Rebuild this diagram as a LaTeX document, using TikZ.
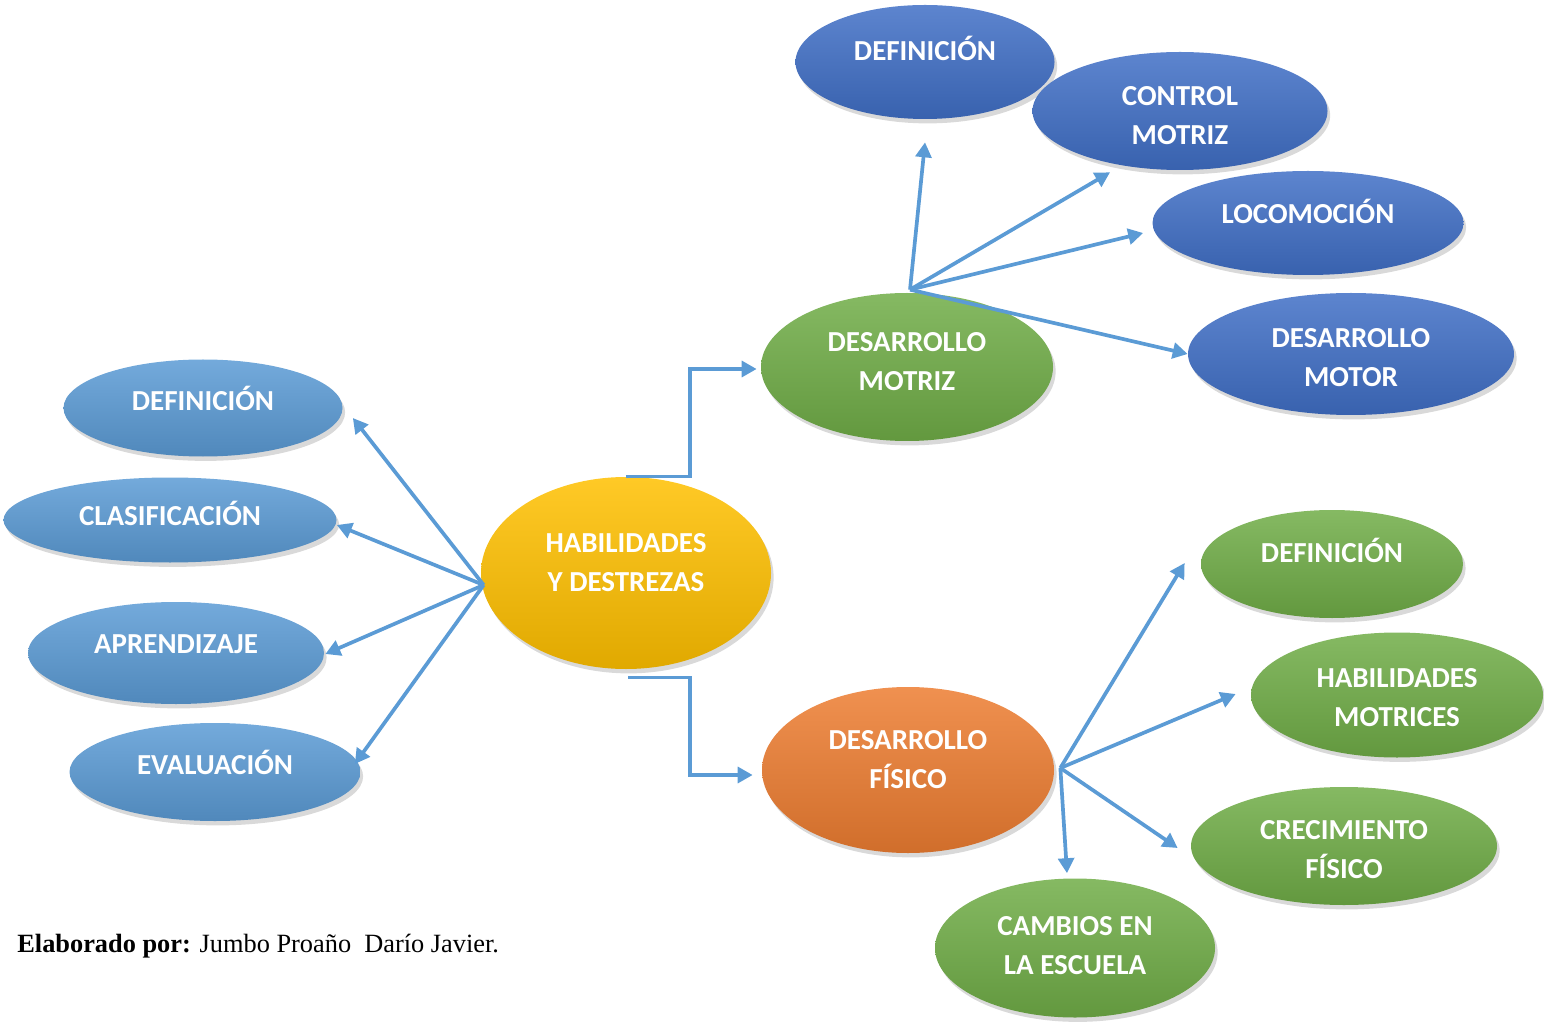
\documentclass[tikz,border=0pt]{standalone}
\usepackage{fontspec}
\setmainfont{Liberation Serif}
\newfontfamily\carlito{Carlito}
\usetikzlibrary{shapes.geometric,shadows,arrows.meta}

\definecolor{lineblue}{HTML}{5B9BD5}
\definecolor{amarillo}{HTML}{FFC000}
\definecolor{verde}{HTML}{70AD47}
\definecolor{naranja}{HTML}{ED7D31}
\definecolor{celeste}{HTML}{5B9BD5}
\definecolor{azul}{HTML}{406FC6}

% text of a bubble, lifted by #1 px over the centre
\newcommand{\lbl}[2]{\raisebox{\dimexpr 0.569pt*#1-4.9pt\relax}[0pt][0pt]{\begin{tabular}{@{}c@{}}#2\end{tabular}}}

\begin{document}
\begin{tikzpicture}[x=0.02cm,y=-0.02cm,
bubble/.style={ellipse,inner sep=0pt,text=white,
  top color=#1!85!white,middle color=#1,bottom color=#1!88!black,
  drop shadow={shadow xshift=1.5pt,shadow yshift=-2.5pt,opacity=.3},
  font=\carlito\bfseries\fontsize{16.5}{22}\selectfont},
wh/.style 2 args={minimum width=#1*0.02cm,minimum height=#2*0.02cm},
conn/.style={draw=lineblue,line width=2.1pt,-{Triangle[length=8.5pt,width=9pt]}}]
\useasboundingbox (0,0) rectangle (1544,1023);

% centre
\node[bubble=amarillo,wh={290}{192}] (hab) at (626,573) {\lbl{10}{HABILIDADES\\Y DESTREZAS}};
\node[bubble=verde,wh={292}{148}] (dm) at (907,367) {\lbl{5}{DESARROLLO\\MOTRIZ}};
\node[bubble=naranja,wh={292}{166}] (df) at (908,770) {\lbl{10}{DESARROLLO\\FÍSICO}};

% left
\node[bubble=celeste,wh={279}{97}] (defL) at (203,408) {\lbl{6}{DEFINICIÓN}};
\node[bubble=celeste,wh={333}{85}] (clas) at (170,520) {\lbl{3}{CLASIFICACIÓN}};
\node[bubble=celeste,wh={296}{102}] (apr) at (176,653) {\lbl{8}{APRENDIZAJE}};
\node[bubble=celeste,wh={291}{98}] (eval) at (215,772) {\lbl{6}{EVALUACIÓN}};

% top right
\node[bubble=azul,wh={259}{114}] (defT) at (925,62) {\lbl{10}{DEFINICIÓN}};
\node[bubble=azul,wh={295}{118}] (ctrl) at (1180,111) {\lbl{-5}{CONTROL\\MOTRIZ}};
\node[bubble=azul,wh={311}{104}] (loco) at (1308,223) {\lbl{8}{LOCOMOCIÓN}};
\node[bubble=azul,wh={326}{122}] (dmot) at (1351,354) {\lbl{-4}{DESARROLLO\\MOTOR}};

% bottom right
\node[bubble=verde,wh={262}{108}] (defR) at (1332,564) {\lbl{10}{DEFINICIÓN}};
\node[bubble=verde,wh={292}{125}] (habm) at (1397,695) {\lbl{-3}{HABILIDADES\\MOTRICES}};
\node[bubble=verde,wh={306}{118}] (crec) at (1344,846) {\lbl{-4}{CRECIMIENTO\\FÍSICO}};
\node[bubble=verde,wh={280}{139}] (camb) at (1075,948) {\lbl{2}{CAMBIOS EN\\LA ESCUELA}};

\node[anchor=base west,inner sep=0pt,font=\fontsize{15}{18}\selectfont] (firma) at (17,952)
  {\textbf{Elaborado por:} Jumbo Proaño~ Darío Javier.};

% connectors
\coordinate (hubH) at ([shift={(3,12)}]hab.west);
\coordinate (hubM) at ([shift={(3,-3)}]dm.north);
\coordinate (hubF) at ([shift={(6,-2)}]df.east);

\draw[conn] (hab.north) -- ++(64,0) |- ([shift={(-4,2)}]dm.west);
\draw[conn] ([shift={(2,8)}]hab.south) -- ++(62,0) |- ([shift={(-9,5)}]df.west);

\draw[conn] (hubH) -- ([shift={(10,10)}]defL.east);
\draw[conn] (hubH) -- ([shift={(0,5)}]clas.east);
\draw[conn] (hubH) -- ([shift={(1,1)}]apr.east);
\draw[conn] (hubH) -- ([shift={(-6,-8)}]eval.east);

\draw[conn] (hubM) -- ([shift={(0,23)}]defT.south);
\draw[conn] (hubM) -- ([shift={(-70,2)}]ctrl.south);
\draw[conn] (hubM) -- ([shift={(-9,10)}]loco.west);
\draw[conn] (hubM) -- (dmot.west);

\draw[conn] (hubF) -- ([shift={(-16,-1)}]defR.west);
\draw[conn] (hubF) -- ([shift={(-15,-1)}]habm.west);
\draw[conn] (hubF) -- ([shift={(-13,2)}]crec.west);
\draw[conn] (hubF) -- ([shift={(-8,-5)}]camb.north);
\end{tikzpicture}
\end{document}
